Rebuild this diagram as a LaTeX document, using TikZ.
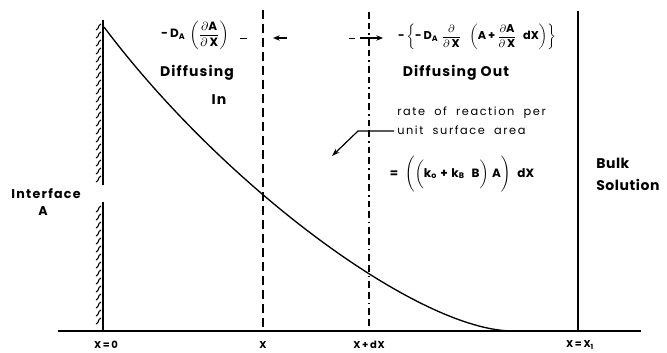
\documentclass[tikz,border=0pt]{standalone}
\usepackage{amsmath}
\usepackage{fontspec}
\setmainfont{Poppins}
\newfontfamily\spacedsmall[LetterSpace=14,WordSpace=2]{Poppins}
\usetikzlibrary{arrows.meta}
\begin{document}
\begin{tikzpicture}[x=0.75pt,y=-0.75pt,
  lbl/.style={inner sep=0pt, font=\fontsize{10.5}{12}\selectfont\bfseries\addfontfeatures{LetterSpace=8}},
  small/.style={inner sep=0pt, font=\spacedsmall\fontsize{8.5}{9}\selectfont},
  axlbl/.style={inner sep=0pt, font=\fontsize{7.5}{9}\selectfont\bfseries\addfontfeatures{LetterSpace=8}},
  frm/.style={inner sep=0pt, font=\fontsize{8.5}{10}\selectfont\bfseries},
  wall/.style={line width=2.2pt},
  hatch/.style={line width=0.8pt},
  dashX/.style={line width=0.9pt, dash pattern=on 7pt off 3.5pt},
  dashXd/.style={line width=0.9pt, dash pattern=on 5pt off 3pt on 5pt off 3pt on 1.2pt off 3pt},
  arr/.style={line width=0.9pt, -{Stealth[length=5pt,width=4pt]}}]
\useasboundingbox (0,0) rectangle (667,353);
% interface wall
\coordinate (w1) at (103,20);
\coordinate (w2) at (103,185);
\coordinate (w3) at (103,202);
\coordinate (w4) at (103,331);
\draw[wall] (w1) -- (w2);
\draw[wall] (w3) -- (w4);
\foreach \y in {24,32,...,176} \draw[hatch] (101,\y) .. controls (97,\y+2) and (100,\y+4) .. (96,\y+6);
\foreach \y in {206,214,...,322} \draw[hatch] (101,\y) .. controls (97,\y+2) and (100,\y+4) .. (96,\y+6);
% axis
\coordinate (a1) at (58,331);
\coordinate (a2) at (641,331);
\draw[line width=1.6pt] (a1) -- (a2);
% bulk wall
\coordinate (b1) at (578,11);
\coordinate (b2) at (578,331);
\draw[line width=2pt] (b1) -- (b2);
% dashed lines
\coordinate (x1) at (263,10);
\coordinate (x2) at (263,331);
\coordinate (y1) at (369,12);
\coordinate (y2) at (369,331);
\draw[dashX] (x1) -- (x2);
\draw[dashXd] (y1) -- (y2);
% concentration curve
\coordinate (c0) at (104,27);
\coordinate (c3) at (513,331);
\draw[line width=1pt] (c0) .. controls (225,188) and (420,331) .. (c3);
% top formulas
\node[frm, font=\fontsize{9}{10}\selectfont\bfseries] (fin) at (195,35) {$\text{-\,D}_{\text{A}}\,\left(\dfrac{\partial\text{A}}{\partial\,\text{X}}\right)$};
\coordinate (d1) at (240,38); \coordinate (d2) at (247,38);
\draw[line width=0.7pt] (d1) -- (d2);
\coordinate (la1) at (287,38); \coordinate (la2) at (273,38);
\draw[arr] (la1) -- (la2);
\coordinate (d3) at (349,38); \coordinate (d4) at (355,38);
\draw[line width=0.7pt] (d3) -- (d4);
\coordinate (ra1) at (360,38); \coordinate (ra2) at (383,38);
\draw[arr] (ra1) -- (ra2);
\node[frm] (fout) at (477,37) {$\text{-}\left\{\text{-\,D}_{\text{A}}\;\dfrac{\partial}{\partial\,\text{X}}\;\;\left(\text{A}\,\text{+}\,\dfrac{\partial\text{A}}{\partial\,\text{X}}\;\;\text{dX}\right)\right\}$};
% labels
\node[lbl] (dif) at (197,73) {Diffusing};
\node[lbl] (in) at (219,100) {In};
\node[lbl] (dout) at (456,73) {Diffusing Out};
\node[small, anchor=west] (r1) at (397,113) {rate of reaction per};
\node[small, anchor=west] (r2) at (397,130) {unit surface area};
\node[frm, font=\fontsize{9}{11}\selectfont\bfseries] (eq) at (462,174) {$\text{=}\;\;\Bigg(\bigg(\text{k}_{\text{o}}\;\text{+}\;\text{k}_{\text{B}}\;\;\text{B}\bigg)\;\text{A}\Bigg)\;\;\text{dX}$};
\node[lbl, font=\fontsize{9.5}{11}\selectfont\bfseries\addfontfeatures{LetterSpace=10}] (intf) at (46,194) {Interface};
\node[lbl, font=\fontsize{9.5}{11}\selectfont\bfseries] (intA) at (43,211) {A};
\node[lbl, anchor=west, font=\fontsize{10.5}{12}\selectfont\bfseries\addfontfeatures{LetterSpace=4}] (bulk) at (596,163) {Bulk};
\node[lbl, anchor=west, font=\fontsize{10.5}{12}\selectfont\bfseries\addfontfeatures{LetterSpace=4}] (sol) at (596,185) {Solution};
% leader
\coordinate (l1) at (394,131);
\coordinate (l2) at (358,131);
\coordinate (l3) at (332,156);
\draw[line width=0.9pt, -{Stealth[length=6pt,width=4pt]}] (l1) -- (l2) -- (l3);
% axis labels
\node[axlbl] (t0) at (106,345) {X\,=\,0};
\node[axlbl] (tx) at (263,345) {X};
\node[axlbl] (txd) at (369,345) {X\,+\,dX};
\node[axlbl] (tx1) at (580,345) {X\,=\,X$_{\text{1}}$};
\end{tikzpicture}
\end{document}
